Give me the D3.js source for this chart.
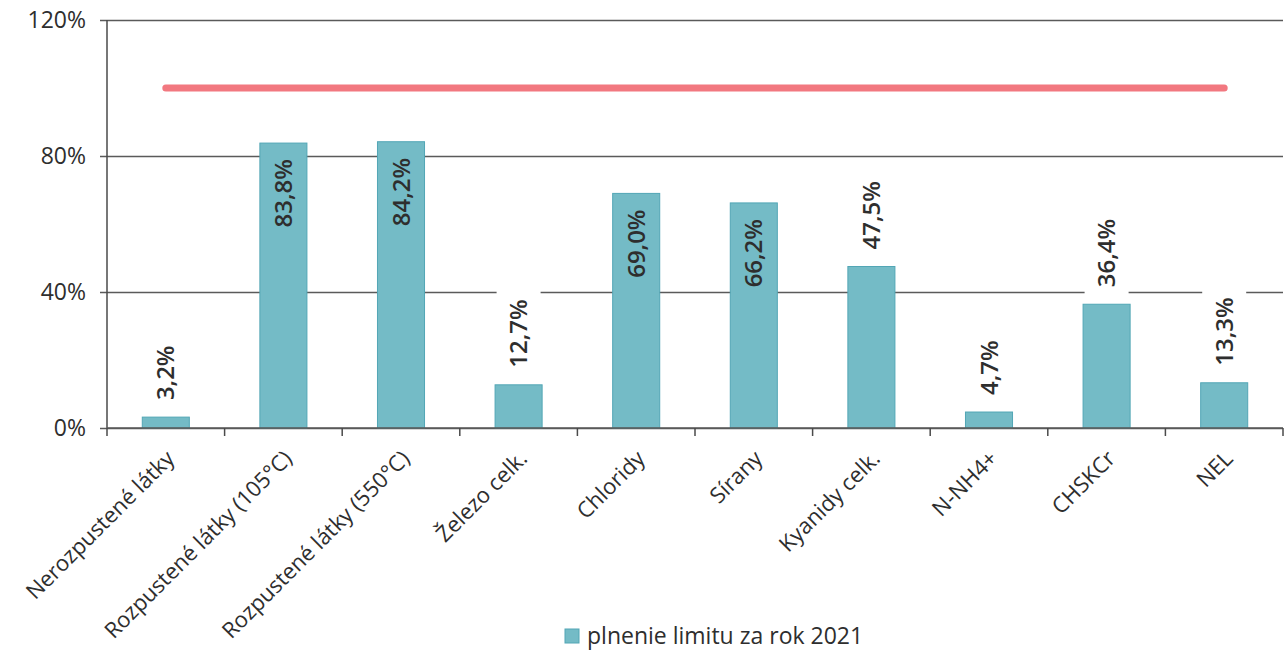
<!DOCTYPE html>
<html>
<head>
<meta charset="utf-8">
<script src="https://cdn.jsdelivr.net/npm/d3@7"></script>
<style>
    body { margin: 0; background: #fff; }
    text { font-family: 'Open Sans', sans-serif; fill: #2e2e2e; }
</style>
</head>
<body>
<svg id="svg1" width="1285" height="652"></svg>
<script>
var categories = ['Nerozpustené látky', 'Rozpustené látky (105°C)', 'Rozpustené látky (550°C)',
    'Železo celk.', 'Chloridy', 'Sírany', 'Kyanidy celk.', 'N-NH4+', 'CHSKCr', 'NEL'];
var values = [3.2, 83.8, 84.2, 12.7, 69.0, 66.2, 47.5, 4.7, 36.4, 13.3];
var limitValues = [100, 100, 100, 100, 100, 100, 100, 100, 100, 100];
var yTicks = [0, 40, 80, 120];
var legendLabel = 'plnenie limitu za rok 2021';

var width = 1285;
var height = 652;

var marginLeft = 107;
var marginTop = 20;
var plotRight = 1283;
var plotBottom = 428;

var svg1 = d3.select('#svg1');

var x = d3.scaleBand()
    .domain(categories)
    .range([marginLeft, plotRight])
    .paddingInner(0.6)
    .paddingOuter(0.3);

var y = d3.scaleLinear()
    .domain([0, 120])
    .range([plotBottom, marginTop]);

//gridlines + y labels
svg1.append('g')
    .attr('class', 'yaxis')
    .attr('transform', 'translate(' + marginLeft + ',0)')
    .call(d3.axisLeft(y)
        .tickValues(yTicks)
        .tickSize(-(plotRight - marginLeft))
        .tickFormat(function(d){ return d + '%'; }))
    .call(function(g){
        g.select('.domain').remove();
        g.selectAll('.tick line')
            .attr('x1', -7)
            .attr('stroke', '#5a5a5a')
            .attr('stroke-width', 1.5);
        g.selectAll('.tick text')
            .attr('x', -21)
            .attr('font-size', 23)
            .attr('fill', '#2e2e2e');
    });

//vertical axis line
svg1.append('line')
    .attr('x1', marginLeft)
    .attr('x2', marginLeft)
    .attr('y1', y(120))
    .attr('y2', y(0))
    .attr('stroke', '#4a4a4a')
    .attr('stroke-width', 1.5);

//bars
svg1.selectAll('.bar')
    .data(values)
    .enter()
    .append('rect')
    .attr('class', 'bar')
    .attr('x', function(d, i){ return x(categories[i]); })
    .attr('y', function(d){ return y(d); })
    .attr('width', x.bandwidth())
    .attr('height', function(d){ return y(0) - y(d); })
    .attr('fill', '#74bbc6')
    .attr('stroke', '#52a6b5')
    .attr('stroke-width', 1);

//bottom axis with ticks between categories
var step = x.step();
var xTickPos = d3.range(categories.length + 1).map(function(i){ return marginLeft + i * step; });

svg1.append('line')
    .attr('x1', marginLeft)
    .attr('x2', plotRight)
    .attr('y1', y(0))
    .attr('y2', y(0))
    .attr('stroke', '#5a5a5a')
    .attr('stroke-width', 1.5);

svg1.selectAll('.xtick')
    .data(xTickPos)
    .enter()
    .append('line')
    .attr('class', 'xtick')
    .attr('x1', function(d){ return d; })
    .attr('x2', function(d){ return d; })
    .attr('y1', y(0))
    .attr('y2', y(0) + 8)
    .attr('stroke', '#4a4a4a')
    .attr('stroke-width', 1.5);

svg1.selectAll('.xlabel')
    .data(categories)
    .enter()
    .append('text')
    .attr('class', 'xlabel')
    .attr('text-anchor', 'end')
    .attr('font-size', 22)
    .attr('transform', function(d){
        var cx = x(d) + x.bandwidth() / 2 + 10;
        return 'translate(' + cx + ',' + (y(0) + 32) + ') rotate(-45)';
    })
    .text(function(d){ return d; });

//limit line at 100%
var line = d3.line()
    .x(function(d, i){ return x(categories[i]) + x.bandwidth() / 2; })
    .y(function(d){ return y(d); });

svg1.append('path')
    .datum(limitValues)
    .attr('d', line)
    .attr('fill', 'none')
    .attr('stroke', '#f27880')
    .attr('stroke-width', 7)
    .attr('stroke-linecap', 'round');

//data labels, inside the tall bars, above the others
var labelGroup = svg1.selectAll('.dlabel')
    .data(values)
    .enter()
    .append('g')
    .attr('class', 'dlabel')
    .attr('transform', function(d, i){
        var cx = x(categories[i]) + x.bandwidth() / 2;
        return 'translate(' + cx + ',' + y(d) + ')';
    });

labelGroup.filter(function(d){ return d < 60; })
    .append('rect')
    .attr('x', -22)
    .attr('y', -98)
    .attr('width', 44)
    .attr('height', 88)
    .attr('fill', '#fff');

labelGroup.append('text')
    .attr('font-size', 24)
    .attr('font-weight', 600)
    .attr('fill', '#333')
    .attr('dy', '0.36em')
    .attr('text-anchor', function(d){ return d < 60 ? 'start' : 'end'; })
    .attr('transform', function(d){
        return d < 60 ? 'translate(0,-17) rotate(-90)' : 'translate(0,16) rotate(-90)';
    })
    .text(function(d){ return d.toFixed(1).replace('.', ',') + '%'; });

//legend
var legend = svg1.append('g')
    .attr('transform', 'translate(565,629)');

legend.append('rect')
    .attr('width', 14)
    .attr('height', 14)
    .attr('fill', '#74bbc6')
    .attr('stroke', '#52a6b5');

legend.append('text')
    .attr('x', 22)
    .attr('y', 15)
    .attr('font-size', 23)
    .text(legendLabel);
</script>
</body>
</html>
